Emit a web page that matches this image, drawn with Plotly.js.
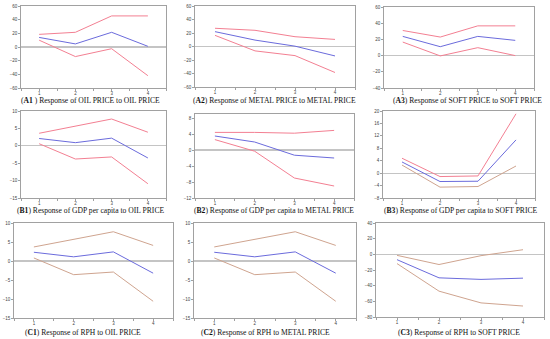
<!DOCTYPE html>
<html>
<head>
<meta charset="utf-8">
<script src="https://cdn.plot.ly/plotly-3.0.1.min.js"></script>
<style>html,body{margin:0;padding:0;background:#fff;}#chart{width:550px;height:339px;}</style>
</head>
<body>
<div id="chart"></div>
<script>
// ---- data ----
const periods = [1, 2, 3, 4];
const xTickLabels = ['1', '2', '3', '4'];

const a1Resp  = [14, 4.5, 21.5, 1];
const a1Upper = [18.5, 21.5, 45.5, 45.5];
const a1Lower = [10, -14, -2.5, -42];

const a2Resp  = [22, 9.5, 0.5, -14];
const a2Upper = [27, 24, 14.5, 10.5];
const a2Lower = [16.5, -6.5, -13.5, -38.5];

const a3Resp  = [23.7, 11, 23.7, 18.8];
const a3Upper = [31, 22.9, 36.7, 36.7];
const a3Lower = [16.7, -0.4, 9.8, 0];

const b1Resp  = [2.1, 0.9, 2.2, -3.5];
const b1Upper = [3.6, 5.6, 7.7, 3.9];
const b1Lower = [0.6, -3.8, -3.2, -10.9];

const b2Resp  = [3.5, 2, -1.3, -2];
const b2Upper = [4.4, 4.4, 4.2, 4.9];
const b2Lower = [2.6, -0.3, -7, -9];

const b3Resp  = [3.6, -2.7, -2.6, 10.7];
const b3Upper = [4.8, -1.1, -0.9, 19.1];
const b3Lower = [2.6, -4.5, -4.3, 2.3];

const c1Resp  = [2.3, 1.1, 2.4, -3.2];
const c1Upper = [3.7, 5.7, 7.7, 4.1];
const c1Lower = [0.8, -3.6, -2.9, -10.6];

const c2Resp  = [2.3, 1.1, 2.4, -3.2];
const c2Upper = [3.7, 5.7, 7.7, 4.1];
const c2Lower = [0.8, -3.6, -2.9, -10.6];

const c3Resp  = [-6.8, -30, -32, -30.4];
const c3Upper = [-1.3, -13, -1.7, 5.9];
const c3Lower = [-11.8, -47, -62, -66];

const captions = [
  '(<b>A1</b> ) Response of OIL PRICE to OIL PRICE',
  '(<b>A2</b>) Response of METAL PRICE to METAL PRICE',
  '(<b>A3</b>) Response of SOFT PRICE to SOFT PRICE',
  '(<b>B1</b>) Response of GDP per capita to OIL PRICE',
  '(<b>B2</b>) Response of GDP per capita to METAL PRICE',
  '(<b>B3</b>) Response of GDP per capita to SOFT PRICE',
  '(<b>C1</b>) Response of RPH to OIL PRICE',
  '(<b>C2</b>) Response of RPH to METAL PRICE',
  '(<b>C3</b>) Response of RPH to SOFT PRICE'
];

// ---- layout / styling ----
const W = 550, H = 339;
const BLUE = '#6b6bdc', RED = '#f37f92', TAN = '#cfa48f';

const panels = [
  {resp:a1Resp, up:a1Upper, lo:a1Lower, box:[21,166,6,88],  range:[-60,60], tick0:-60, dtick:20, upC:RED, loC:RED, cap:[90,100.5]},
  {resp:a2Resp, up:a2Upper, lo:a2Lower, box:[195,355,6,87], range:[-60,60], tick0:-60, dtick:20, upC:RED, loC:RED, cap:[274,100.5]},
  {resp:a3Resp, up:a3Upper, lo:a3Lower, box:[384,534,7,88], range:[-40,60], tick0:-40, dtick:20, upC:RED, loC:RED, cap:[467,100.5]},
  {resp:b1Resp, up:b1Upper, lo:b1Lower, box:[21,166,111,198], range:[-15,10], tick0:-15, dtick:5, upC:RED, loC:RED, cap:[90,210]},
  {resp:b2Resp, up:b2Upper, lo:b2Lower, box:[195,354,114,198], range:[-12,9], tick0:-12, dtick:4, upC:RED, loC:RED, cap:[274,210]},
  {resp:b3Resp, up:b3Upper, lo:b3Lower, box:[383,535,111,198], range:[-8,20], tick0:-8, dtick:4, upC:RED, loC:TAN, cap:[461,210]},
  {resp:c1Resp, up:c1Upper, lo:c1Lower, box:[14,173,223,318], range:[-15,10], tick0:-15, dtick:5, upC:TAN, loC:TAN, cap:[83,332]},
  {resp:c2Resp, up:c2Upper, lo:c2Lower, box:[194,356,223,318], range:[-15,10], tick0:-15, dtick:5, upC:TAN, loC:TAN, cap:[265,332]},
  {resp:c3Resp, up:c3Upper, lo:c3Lower, box:[376,544,223,317], range:[-80,40], tick0:-80, dtick:20, upC:TAN, loC:TAN, cap:[459,332.5]}
];

const traces = [];
const layout = {
  width: W, height: H,
  margin: {l:0, r:0, t:0, b:0},
  paper_bgcolor: '#fff', plot_bgcolor: '#fff',
  showlegend: false,
  annotations: []
};

panels.forEach((p, i) => {
  const n = i + 1;
  const xa = n === 1 ? 'x' : 'x' + n;
  const ya = n === 1 ? 'y' : 'y' + n;
  const common = {x: periods, xaxis: xa, yaxis: ya, mode: 'lines', hoverinfo: 'skip'};
  traces.push(Object.assign({}, common, {y: p.up, line: {color: p.upC, width: 1}}));
  traces.push(Object.assign({}, common, {y: p.lo, line: {color: p.loC, width: 1}}));
  traces.push(Object.assign({}, common, {y: p.resp, line: {color: BLUE, width: 1}}));

  const [l, r, t, b] = p.box;
  layout['xaxis' + (n === 1 ? '' : n)] = {
    domain: [l / W, r / W], anchor: ya,
    range: [0.5, 4.5], tickvals: periods, ticktext: xTickLabels,
    ticks: 'outside', ticklen: 2, tickwidth: 0.7, tickcolor: '#777',
    ticklabelstandoff: -1,
    minor: {tickvals: [0.5, 1.5, 2.5, 3.5, 4.5], ticks: 'outside', ticklen: 2, tickwidth: 0.7, tickcolor: '#777'},
    showline: true, mirror: true, linecolor: '#8a8a8a', linewidth: 0.8,
    showgrid: false, zeroline: false, fixedrange: true,
    tickfont: {family: 'Liberation Sans, Arial, sans-serif', size: 4.5, color: '#444'}
  };
  layout['yaxis' + (n === 1 ? '' : n)] = {
    domain: [1 - b / H, 1 - t / H], anchor: xa,
    range: p.range, tick0: p.tick0, dtick: p.dtick, tickmode: 'linear',
    ticks: 'outside', ticklen: 2, tickwidth: 0.7, tickcolor: '#777',
    showline: true, mirror: true, linecolor: '#8a8a8a', linewidth: 0.8,
    showgrid: false, zeroline: true, zerolinecolor: '#c4c4c4', zerolinewidth: 1.2,
    fixedrange: true,
    tickfont: {family: 'Liberation Sans, Arial, sans-serif', size: 4.5, color: '#444'}
  };
  layout.annotations.push({
    text: captions[i], xref: 'paper', yref: 'paper',
    x: p.cap[0] / W, y: 1 - p.cap[1] / H, xanchor: 'center', yanchor: 'middle',
    showarrow: false,
    font: {family: 'Liberation Serif, Times New Roman, serif', size: 7.6, color: '#111'}
  });
});

Plotly.newPlot('chart', traces, layout, {staticPlot: true, displayModeBar: false});
</script>
</body>
</html>
